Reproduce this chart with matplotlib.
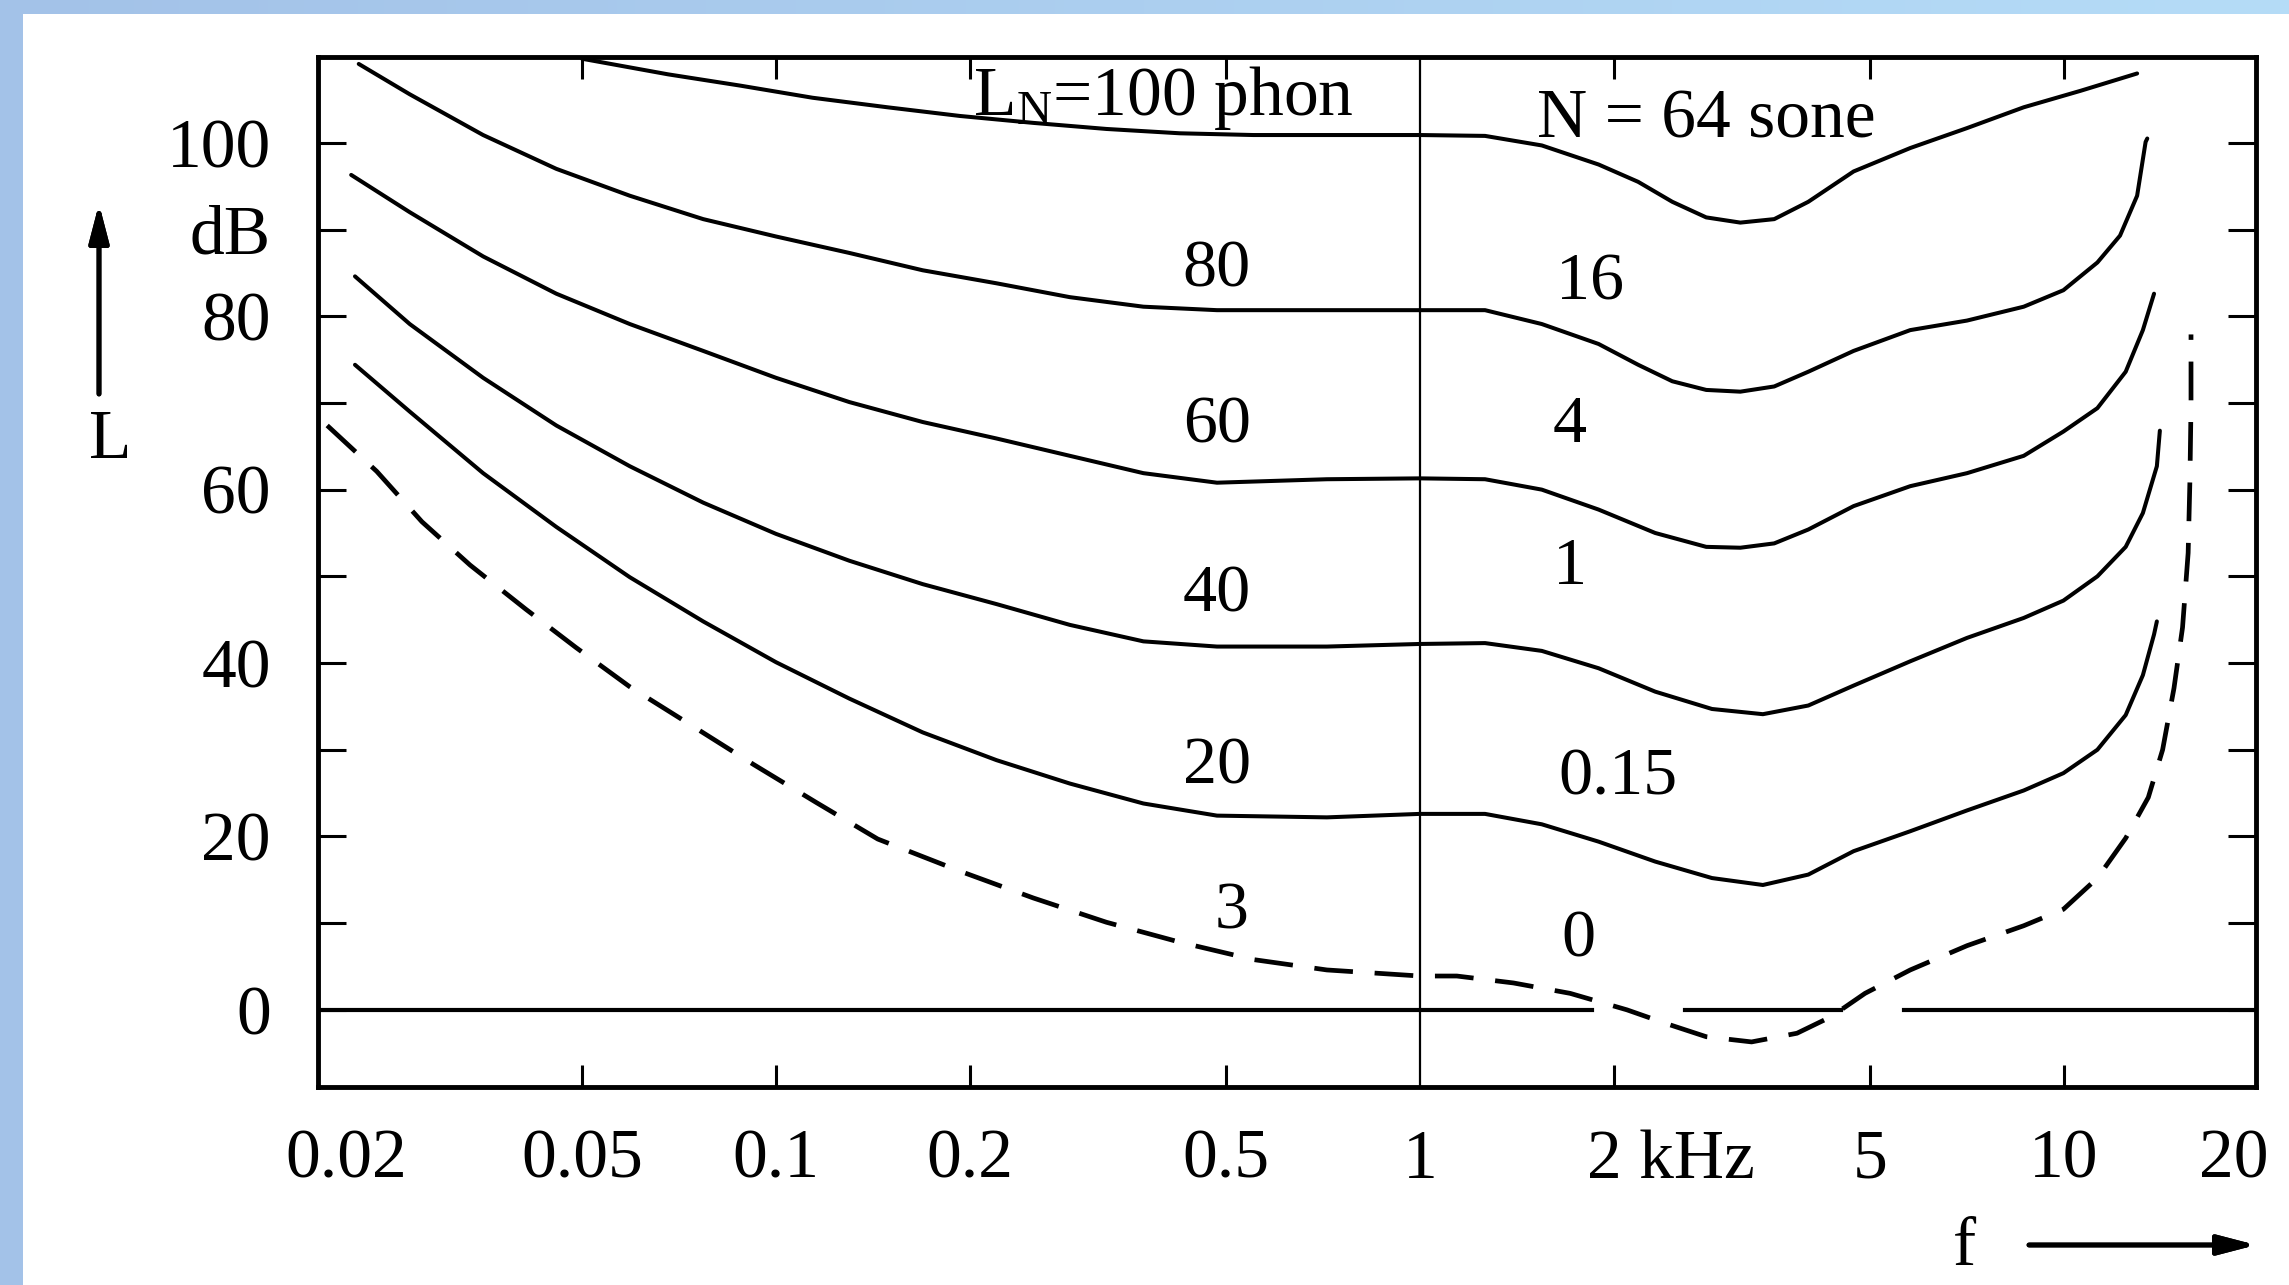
import numpy as np
import matplotlib.pyplot as plt
from matplotlib.colors import LinearSegmentedColormap
from matplotlib.patches import Rectangle
from matplotlib.ticker import NullLocator

plt.rcParams['font.family'] = ['Liberation Serif', 'DejaVu Serif']
plt.rcParams['mathtext.fontset'] = 'custom'
plt.rcParams['mathtext.rm'] = 'Liberation Serif'
plt.rcParams['mathtext.it'] = 'Liberation Serif:italic'

# Кривые равной громкости: частота (кГц) и уровень (дБ)
f100 = [0.050, 0.068, 0.088, 0.114, 0.149, 0.193, 0.251, 0.326, 0.424, 0.551, 0.717, 1.0,
        1.262, 1.546, 1.894, 2.182, 2.465, 2.783, 3.144, 3.549, 4.009, 4.714, 5.772,
        7.071, 8.660, 10.61, 12.99]
L100 = [109.7, 107.9, 106.6, 105.2, 104.1, 103.1, 102.3, 101.6, 101.1, 100.9, 100.9, 100.9,
        100.8, 99.7, 97.5, 95.5, 93.2, 91.4, 90.8, 91.2, 93.2, 96.7, 99.4,
        101.7, 104.1, 106.0, 108.0]

f80 = [0.0225, 0.0270, 0.0351, 0.0456, 0.0593, 0.0771, 0.100, 0.130, 0.169, 0.220, 0.286,
       0.372, 0.484, 0.717, 1.0, 1.262, 1.546, 1.894, 2.182, 2.465, 2.783, 3.144, 3.549,
       4.009, 4.714, 5.772, 7.071, 8.660, 9.98, 11.27, 12.22, 12.99, 13.39, 13.47]
L80 = [109.1, 105.6, 100.9, 97.0, 93.9, 91.2, 89.2, 87.3, 85.3, 83.8, 82.2,
       81.1, 80.7, 80.7, 80.7, 80.7, 79.1, 76.8, 74.4, 72.5, 71.5, 71.3, 71.9,
       73.6, 76.0, 78.4, 79.5, 81.1, 83.0, 86.2, 89.3, 93.9, 100.1, 100.5]

f60 = [0.0219, 0.0270, 0.0351, 0.0456, 0.0593, 0.0771, 0.100, 0.130, 0.169, 0.220, 0.286,
       0.372, 0.484, 0.717, 1.0, 1.262, 1.546, 1.894, 2.319, 2.783, 3.144, 3.549, 4.009,
       4.714, 5.772, 7.071, 8.660, 9.98, 11.27, 12.47, 13.26, 13.80]
L60 = [96.3, 92.0, 86.9, 82.6, 79.1, 76.0, 72.9, 70.1, 67.8, 65.9, 63.9,
       61.9, 60.8, 61.2, 61.3, 61.2, 60.0, 57.7, 55.0, 53.4, 53.3, 53.8, 55.4,
       58.1, 60.4, 61.9, 63.9, 66.7, 69.4, 73.6, 78.4, 82.6]

f40 = [0.0222, 0.0270, 0.0351, 0.0456, 0.0593, 0.0771, 0.100, 0.130, 0.169, 0.220, 0.286,
       0.372, 0.484, 0.717, 1.0, 1.262, 1.546, 1.894, 2.319, 2.841, 3.408, 4.009, 4.714,
       5.772, 7.071, 8.660, 9.98, 11.27, 12.47, 13.26, 13.94, 14.09]
L40 = [84.6, 79.1, 72.9, 67.4, 62.7, 58.5, 54.9, 51.8, 49.1, 46.8, 44.4,
       42.5, 41.9, 41.9, 42.2, 42.3, 41.4, 39.4, 36.7, 34.7, 34.1, 35.1, 37.4,
       40.2, 42.9, 45.2, 47.2, 50.0, 53.4, 57.3, 62.7, 66.8]

f20 = [0.0222, 0.0270, 0.0351, 0.0456, 0.0593, 0.0771, 0.100, 0.130, 0.169, 0.220, 0.286,
       0.372, 0.484, 0.717, 1.0, 1.262, 1.546, 1.894, 2.319, 2.841, 3.408, 4.009, 4.714,
       5.772, 7.071, 8.660, 9.98, 11.27, 12.47, 13.26, 13.80, 13.94]
L20 = [74.4, 69.0, 61.9, 55.7, 49.9, 44.8, 40.1, 35.9, 32.0, 28.8, 26.1,
       23.8, 22.4, 22.2, 22.6, 22.6, 21.4, 19.4, 17.1, 15.2, 14.4, 15.6, 18.3,
       20.6, 23.0, 25.3, 27.3, 30.0, 34.0, 38.6, 43.3, 44.8]

# порог слышимости (штриховая)
f_thr = [0.0201, 0.0240, 0.0282, 0.0335, 0.0409, 0.0489, 0.0592, 0.0736, 0.0923, 0.1156,
         0.1439, 0.193, 0.251, 0.326, 0.424, 0.551, 0.717, 1.0, 1.141, 1.397, 1.711, 2.096,
         2.415, 2.783, 3.273, 3.850, 4.347, 4.910, 5.772, 7.071, 8.660, 9.98, 11.27, 12.47,
         13.52, 14.23, 14.82, 15.28, 15.59, 15.69, 15.75, 15.75]
L_thr = [67.4, 62.1, 56.3, 51.3, 46.2, 41.8, 37.3, 32.9, 28.3, 23.9,
         19.7, 16.0, 12.9, 10.1, 7.8, 5.8, 4.6, 3.9, 3.9, 3.1, 1.9, 0.0,
         -1.6, -3.1, -3.7, -2.7, -0.8, 1.9, 4.6, 7.4, 9.7, 11.6, 15.2, 19.8,
         24.5, 30.0, 37.1, 44.1, 52.7, 61.2, 69.7, 77.9]

# разрывы нулевой линии (кГц)
zero_gaps = [(1.85, 2.58), (4.5, 5.65)]

# подписи кривых
phon_labels = ['80', '60', '40', '20', '3']
phon_pos = [(0.484, 86.1), (0.484, 68.2), (0.484, 48.7), (0.484, 28.8), (0.51, 12.1)]
sone_labels = ['16', '4', '1', '0.15', '0']
sone_pos = [(1.84, 84.6), (1.71, 68.2), (1.71, 51.8), (2.03, 27.6), (1.76, 8.9)]

xticks_inner = [0.05, 0.1, 0.2, 0.5, 2, 5, 10]
xlabel_vals = [0.02, 0.05, 0.1, 0.2, 0.5, 1, 2, 5, 10, 20]
xlabel_text = ['0.02', '0.05', '0.1', '0.2', '0.5', '1', '2 kHz', '5', '10', '20']
yticks = list(range(0, 101, 10))
ytick_text = ['0', '', '20', '', '40', '', '60', '', '80', 'dB', '100']

W, H = 2289, 1285
fig = plt.figure(figsize=(W / 100, H / 100), dpi=100)

# голубая рамка слайда
band = fig.add_axes([0, 1 - 14 / H, 1, 14 / H])
band.imshow(np.linspace(0, 1, 256)[None, :], aspect='auto',
            cmap=LinearSegmentedColormap.from_list('band', ['#a3c2e8', '#b5dcf7']))
band.axis('off')
fig.add_artist(Rectangle((0, 0), 23 / W, 1, transform=fig.transFigure,
                         color='#a3c2e8', lw=0))

ax = fig.add_axes([318 / W, 1 - 1087 / H, (2256 - 318) / W, (1087 - 57) / H])
ax.set_xscale('log')
ax.set_xlim(0.01945, 19.87)
ax.set_ylim(-8.9, 109.9)

for f, L in [(f100, L100), (f80, L80), (f60, L60), (f40, L40), (f20, L20)]:
    ax.plot(f, L, color='black', lw=2.9, solid_capstyle='round', solid_joinstyle='round')
ax.plot(f_thr, L_thr, color='black', lw=3.4, dashes=(8.2, 4.6))

# нулевая линия с разрывами и линия 1 кГц
edges = [ax.get_xlim()[0]] + [v for g in zero_gaps for v in g] + [ax.get_xlim()[1]]
for a, b in zip(edges[::2], edges[1::2]):
    ax.plot([a, b], [0, 0], color='black', lw=3)
ax.axvline(1.0, color='black', lw=1.6)

for s in ax.spines.values():
    s.set_linewidth(3.5)

ax.set_xticks(xticks_inner)
ax.xaxis.set_minor_locator(NullLocator())
ax.tick_params(axis='x', which='major', direction='in', length=16, width=2.2,
               top=True, bottom=True, labelbottom=False)
ax.set_yticks(yticks)
ax.set_yticklabels(ytick_text)
ax.tick_params(axis='y', direction='in', length=20, width=2.2, left=True, right=True,
               labelsize=50, pad=34)

# подписи оси частот
offsets = {'0.02': 15, '20': -17, '2 kHz': -19}
for v, t in zip(xlabel_vals, xlabel_text):
    ax.annotate(t, xy=(v, 0), xycoords=('data', 'axes fraction'),
                xytext=(offsets.get(t, 0), -48), textcoords='offset points',
                ha='left' if t == '2 kHz' else 'center', va='center_baseline', fontsize=50)

for t, (x, y) in zip(phon_labels, phon_pos):
    ax.text(x, y, t, ha='center', va='center_baseline', fontsize=49)
for t, (x, y) in zip(sone_labels, sone_pos):
    ax.text(x, y, t, ha='center', va='center_baseline', fontsize=49)
ax.text(0.40, 106.1, r'L$_{\mathrm{N}}$=100 phon', ha='center', va='center_baseline', fontsize=50)
ax.text(2.78, 103.4, 'N = 64 sone', ha='center', va='center_baseline', fontsize=50)

# обозначения осей со стрелками
fig.text(110 / W, 1 - 441 / H, 'L', ha='center', va='center', fontsize=50)
fig.add_artist(plt.annotate('', xy=(99 / W, 1 - 204 / H), xytext=(99 / W, 1 - 394 / H),
                            xycoords='figure fraction',
                            arrowprops=dict(arrowstyle='-|>,head_length=1.15,head_width=0.3',
                                            lw=3.5, color='black', mutation_scale=20,
                                            shrinkA=0, shrinkB=0)))
fig.text(1964 / W, 1 - 1248 / H, 'f', ha='center', va='center', fontsize=50)
fig.add_artist(plt.annotate('', xy=(2256 / W, 1 - 1245 / H), xytext=(2029 / W, 1 - 1245 / H),
                            xycoords='figure fraction',
                            arrowprops=dict(arrowstyle='-|>,head_length=1.15,head_width=0.3',
                                            lw=3.5, color='black', mutation_scale=20,
                                            shrinkA=0, shrinkB=0)))

fig.savefig('out.png', dpi=100)
